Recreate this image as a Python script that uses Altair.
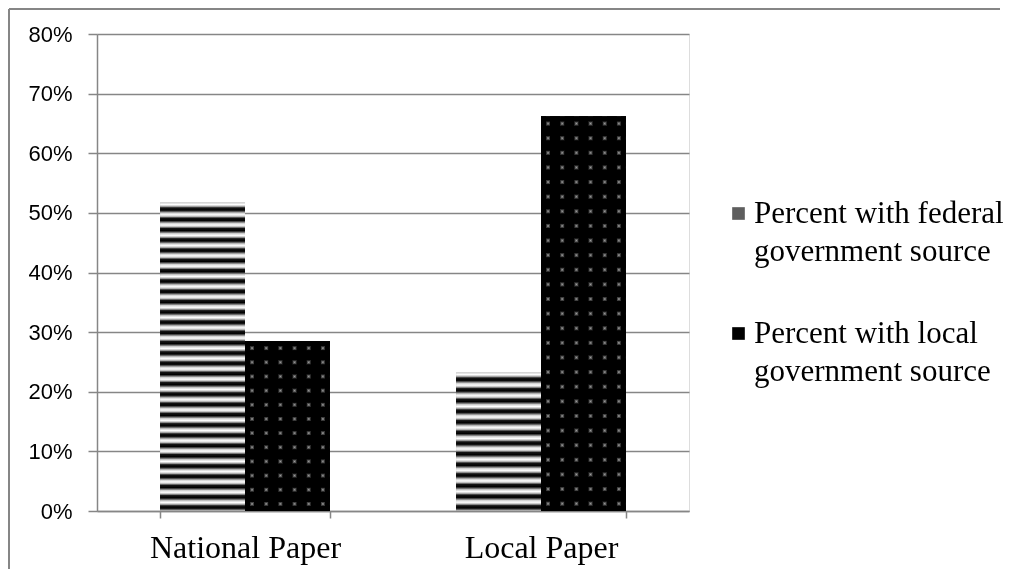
import altair as alt
import pandas as pd

papers = ["National Paper", "Local Paper"]
series = ["Percent with federal government source", "Percent with local government source"]
federal = [0.517, 0.232]
local = [0.285, 0.662]
y_ticks = [0, 0.1, 0.2, 0.3, 0.4, 0.5, 0.6, 0.7, 0.8]

rows = []
for i, p in enumerate(papers):
    rows.append({"paper": p, "series": series[0], "value": federal[i]})
    rows.append({"paper": p, "series": series[1], "value": local[i]})
df = pd.DataFrame(rows)

W, H = 592, 477
YMAX = 0.8
GRID = "#868686"
BAR_W = 85


def periodic(n, pattern, vertical=True):
    stops = []
    for k in range(n):
        for off, col in pattern:
            if k > 0 and off == 0.0:
                continue
            stops.append({"offset": min(1.0, (k + off) / n), "color": col})
    if vertical:
        return {"gradient": "linear", "x1": 0, "y1": 0, "x2": 0, "y2": 1, "stops": stops}
    return {"gradient": "linear", "x1": 0, "y1": 0, "x2": 1, "y2": 0, "stops": stops}


STRIPE = [(0.0, "#d0d0d0"), (0.18, "#ffffff"), (0.34, "#b8b8b8"), (0.5, "#151515"),
          (0.72, "#000000"), (0.88, "#707070"), (1.0, "#d0d0d0")]
DOT = [(0.0, "#000000"), (0.33, "#000000"), (0.5, "#a0a0a0"), (0.67, "#000000"), (1.0, "#000000")]


def bar_px(value):
    return value / YMAX * H


x_enc = alt.X(
    "paper:N", sort=papers,
    scale=alt.Scale(paddingInner=0.426, paddingOuter=0.213),
    axis=alt.Axis(title=None, labelAngle=0, tickBand="extent",
                  labelFont="Liberation Serif", labelFontSize=32, labelColor="black",
                  labelLimit=400,
                  tickColor=GRID, domainColor=GRID, tickSize=7, labelPadding=14,
                  domainWidth=1.5, tickWidth=1.5),
)
y_enc = alt.Y(
    "value:Q",
    scale=alt.Scale(domain=[0, YMAX], nice=False, zero=True),
    axis=alt.Axis(values=y_ticks, format=".0%", title=None,
                  labelFont="Liberation Sans", labelFontSize=22, labelColor="black",
                  gridColor=GRID, gridWidth=1.5, tickColor=GRID, domainColor=GRID,
                  tickSize=9, labelPadding=16, domainWidth=1.5, tickWidth=1.5),
)
xoff = alt.XOffset("series:N", sort=series, scale=alt.Scale(paddingInner=0, paddingOuter=0))

base = alt.Chart(df)

bars = base.mark_bar(strokeWidth=0).encode(
    x=x_enc, y=y_enc, xOffset=xoff,
    color=alt.Color(
        "series:N", sort=series,
        scale=alt.Scale(domain=series, range=["#5e5e5e", "#000000"]),
        legend=alt.Legend(
            title=None, orient="none", legendX=626, legendY=164,
            symbolType="square", symbolSize=160, symbolStrokeWidth=0,
            labelFont="Liberation Serif", labelFontSize=31, labelColor="black",
            labelOffset=0, labelLimit=400, rowPadding=50, padding=0,
            labelBaseline="middle",
            labelExpr="[slice(datum.label, 0, indexof(datum.label, ' government')), 'government source']",
        ),
    ),
)

pattern_layers = []
for i, p in enumerate(papers):
    # horizontal stripes on the federal bars
    n_fed = max(1, round(bar_px(federal[i]) / 10.3))
    pattern_layers.append(
        base.mark_bar(fill=periodic(n_fed, STRIPE), strokeWidth=0)
        .encode(x=x_enc, y=y_enc, xOffset=xoff)
        .transform_filter((alt.datum.paper == p) & (alt.datum.series == series[0]))
    )
    # dotted black on the local bars: row gradient, then column gradient blended with darken
    n_rows = max(1, round(bar_px(local[i]) / 14.5))
    n_cols = max(1, round(BAR_W / 14.5))
    pattern_layers.append(
        base.mark_bar(fill=periodic(n_rows, DOT), strokeWidth=0)
        .encode(x=x_enc, y=y_enc, xOffset=xoff)
        .transform_filter((alt.datum.paper == p) & (alt.datum.series == series[1]))
    )
    pattern_layers.append(
        base.mark_bar(fill=periodic(n_cols, DOT, vertical=False), strokeWidth=0, blend="darken")
        .encode(x=x_enc, y=y_enc, xOffset=xoff)
        .transform_filter((alt.datum.paper == p) & (alt.datum.series == series[1]))
    )

frame_left = base.mark_rule(color=GRID, strokeWidth=1.5).encode(
    x=alt.value(-88), y=alt.value(-25), y2=alt.value(560))
frame_top = base.mark_rule(color=GRID, strokeWidth=1.5).encode(
    x=alt.value(-88), x2=alt.value(903), y=alt.value(-25))

chart = alt.layer(bars, *pattern_layers, frame_left, frame_top).properties(
    width=W, height=H,
    autosize=alt.AutoSizeParams(type="none"),
    padding={"left": 89, "top": 26, "right": 319, "bottom": 58},
).configure_view(stroke=None).configure(
    background="white",
    style={"guide-label": {"lineHeight": 38}},
)

chart.save("out.html", embed_options={"renderer": "svg", "actions": False})
